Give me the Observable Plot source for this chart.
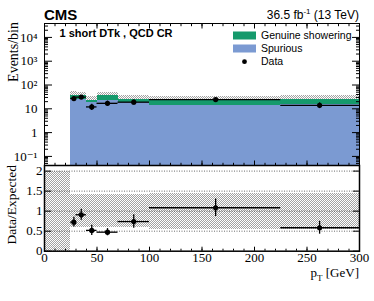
<!DOCTYPE html>
<html><head><meta charset="utf-8">
<script src="https://cdn.jsdelivr.net/npm/d3@7"></script>
<script src="https://cdn.jsdelivr.net/npm/@observablehq/plot@0.6"></script>
<style>
body{margin:0;background:#fff}
#chart{position:relative;width:374px;height:301px;overflow:hidden}
#chart svg{position:absolute;left:0}
</style>
</head><body><div id="chart"></div>
<script>
// ---- data ----
const binEdges   = [0, 25, 30, 40, 50, 70, 100, 225, 300];
const spurious   = [0, 25, 25, 18, 22, 19, 14, 15];
const genuine    = [0, 12, 10, 5, 13, 6, 9, 9];
const relUnc     = [1, 0.42, 0.42, 0.42, 0.42, 0.42, 0.45, 0.45];
const dataX      = [28, 35, 45, 60, 85, 163, 262];
const dataLo     = [25, 30, 40, 50, 70, 100, 225];
const dataHi     = [30, 40, 50, 70, 100, 225, 300];
const dataY      = [27, 31, 12, 17, 19, 24.5, 14];
const dataErr    = [5, 5.5, 3.5, 4, 4.5, 5, 3.8];
const ratio      = [0.725, 0.91, 0.52, 0.475, 0.74, 1.085, 0.585];
const ratioErr   = [0.12, 0.14, 0.125, 0.09, 0.17, 0.22, 0.16];
const yTickValsUp  = [0.1, 1, 10, 100, 1000, 10000];
const yTickLabsUp  = ["10\u207B\u00B9", "1", "10", "10\u00B2", "10\u00B3", "10\u2074"];
const yTickValsLo  = [0, 0.5, 1, 1.5, 2];
const yTickLabsLo  = ["0", "0.5", "1", "1.5", "2"];
const xTickVals    = [0, 50, 100, 150, 200, 250, 300];
const xMinorVals   = d3.range(0, 301, 10);

// ---- layout ----
const W = 374, L = 44, R = 359, T = 23, MID = 165, BOT = 250.7;
const yDomUp = [0.0415, 38400];
const yDomLo = [0, 2.14];
const BLUE = "#7b9ad2", GREEN = "#159a6c";
const serif = "'Liberation Serif', 'DejaVu Serif', serif";
const sans = "'Liberation Sans', Arial, sans-serif";

const bins = binEdges.slice(0, -1).map((x1, i) => ({
  x1, x2: binEdges[i + 1], spur: spurious[i], tot: spurious[i] + genuine[i], unc: relUnc[i]
}));
const filled = bins.filter(d => d.tot > 0);
const pts = dataX.map((x, i) => ({x, lo: dataLo[i], hi: dataHi[i], y: dataY[i], e: dataErr[i], r: ratio[i], re: ratioErr[i]}));
const band = bins.map(d => d.tot > 0 ? {x1: d.x1, x2: d.x2, y1: 1 - d.unc, y2: 1 + d.unc} : {x1: d.x1, x2: d.x2, y1: 0, y2: 2});

const chart = document.getElementById("chart");

// pattern defs
const defs = d3.select(chart).append("svg").attr("width", 0).attr("height", 0).style("top", "0px");
const pat = defs.append("defs").append("pattern").attr("id", "hatch").attr("patternUnits", "userSpaceOnUse").attr("width", 2).attr("height", 2);
pat.append("rect").attr("width", 2).attr("height", 2).attr("fill", "#fff");
pat.append("rect").attr("width", 1).attr("height", 1).attr("fill", "#a2a2a2");
pat.append("rect").attr("x", 1).attr("y", 1).attr("width", 1).attr("height", 1).attr("fill", "#a2a2a2");

const logMinor = d3.scaleLog().domain(yDomUp).ticks().filter(v => !yTickValsUp.includes(v));
const blank = () => "";
const tickAxes = (axis, vals, anchors, size) => anchors.map(a => axis(vals, {anchor: a, tickSize: -size, tickFormat: blank, label: null, stroke: "black"}));
const crisp = {shapeRendering: "crispEdges"};

const upper = Plot.plot({
  width: W, height: MID, marginTop: T, marginBottom: 0, marginLeft: L, marginRight: W - R,
  x: {domain: [0, 300]},
  y: {type: "log", domain: yDomUp},
  style: {fontFamily: serif, fontSize: "13px", background: "transparent", color: "black"},
  marks: [
    Plot.rect(filled, {x1: "x1", x2: "x2", y1: d => d.tot, y2: d => d.tot * (1 + d.unc), fill: "url(#hatch)", ...crisp}),
    Plot.rect(filled, {x1: "x1", x2: "x2", y1: yDomUp[0], y2: "spur", fill: BLUE, ...crisp}),
    Plot.rect(filled, {x1: "x1", x2: "x2", y1: "spur", y2: "tot", fill: GREEN, ...crisp}),
    Plot.ruleY(pts, {y: "y", x1: "lo", x2: "hi", stroke: "black", strokeWidth: 1.3}),
    Plot.ruleX(pts, {x: "x", y1: d => d.y - d.e, y2: d => d.y + d.e, stroke: "black", strokeWidth: 1.3}),
    Plot.dot(pts, {x: "x", y: "y", r: 2.6, fill: "black"}),
    Plot.axisY(yTickValsUp, {anchor: "left", tickSize: 0, tickPadding: 7, label: null, tickFormat: v => yTickLabsUp[yTickValsUp.indexOf(v)]}),
    ...tickAxes(Plot.axisY, yTickValsUp, ["left", "right"], 8),
    ...tickAxes(Plot.axisY, logMinor, ["left", "right"], 4),
    ...tickAxes(Plot.axisX, xTickVals, ["top", "bottom"], 4.5),
    ...tickAxes(Plot.axisX, xMinorVals, ["top", "bottom"], 2.2),
    Plot.frame({stroke: "black"})
  ]
});
upper.style.top = "0px";
chart.appendChild(upper);

const lower = Plot.plot({
  width: W, height: 301 - MID, marginTop: 0, marginBottom: 301 - BOT, marginLeft: L, marginRight: W - R,
  x: {domain: [0, 300]},
  y: {domain: yDomLo},
  style: {fontFamily: serif, fontSize: "13px", background: "transparent", color: "black", overflow: "visible"},
  marks: [
    Plot.rect(band, {x1: "x1", x2: "x2", y1: "y1", y2: "y2", fill: "url(#hatch)", ...crisp}),
    Plot.ruleY([0.5, 1, 1.5, 2], {stroke: "#444", strokeWidth: 0.8, strokeDasharray: "1,1.5"}),
    Plot.ruleY(pts, {y: "r", x1: "lo", x2: "hi", stroke: "black", strokeWidth: 1.3}),
    Plot.ruleX(pts, {x: "x", y1: d => d.r - d.re, y2: d => d.r + d.re, stroke: "black", strokeWidth: 1.3}),
    Plot.dot(pts, {x: "x", y: "r", r: 2.6, fill: "black"}),
    Plot.axisY(yTickValsLo, {anchor: "left", tickSize: 0, tickPadding: 2, label: null, tickFormat: v => yTickLabsLo[yTickValsLo.indexOf(v)]}),
    Plot.axisX(xTickVals, {anchor: "bottom", tickSize: 0, tickPadding: 2, label: null, tickFormat: v => String(v)}),
    ...tickAxes(Plot.axisY, yTickValsLo, ["left", "right"], 7),
    ...tickAxes(Plot.axisX, xTickVals, ["bottom"], 4),
    ...tickAxes(Plot.axisX, xMinorVals, ["bottom"], 2),
    Plot.frame({stroke: "black", strokeWidth: 1.5})
  ]
});
lower.style.top = MID + "px";
chart.appendChild(lower);

// ---- overlay texts & legend ----
const ov = d3.select(chart).append("svg").attr("width", W).attr("height", 301).style("top", "0px").style("pointer-events", "none");
ov.append("text").attr("x", 44).attr("y", 19.5).attr("font-family", sans).attr("font-weight", "bold").attr("font-size", 15).text("CMS");
const lumi = ov.append("text").attr("x", R).attr("y", 19).attr("text-anchor", "end").attr("font-family", sans).attr("font-size", 12);
lumi.append("tspan").text("36.5 fb");
lumi.append("tspan").attr("font-size", 8).attr("dy", -5).text("-1");
lumi.append("tspan").attr("dy", 5).text(" (13 TeV)");
ov.append("text").attr("x", 59.5).attr("y", 36.5).attr("font-family", sans).attr("font-weight", "bold").attr("font-size", 11).text("1 short DTk , QCD CR");

const legend = [
  {label: "Genuine showering", kind: "rect", color: GREEN, y: 35.5},
  {label: "Spurious", kind: "rect", color: BLUE, y: 48.5},
  {label: "Data", kind: "dot", color: "black", y: 61.7}
];
legend.forEach(d => {
  if (d.kind === "rect") ov.append("rect").attr("x", 233).attr("y", d.y - 4).attr("width", 23).attr("height", 8).attr("fill", d.color);
  else ov.append("circle").attr("cx", 244.5).attr("cy", d.y).attr("r", 2.4).attr("fill", d.color);
  ov.append("text").attr("x", 261).attr("y", d.y + 3.5).attr("font-family", sans).attr("font-size", 10.5).text(d.label);
});

ov.append("text").attr("transform", "translate(18,22) rotate(-90)").attr("text-anchor", "end").attr("font-family", serif).attr("font-size", 14).text("Events/bin");
ov.append("text").attr("transform", "translate(16,165) rotate(-90)").attr("text-anchor", "end").attr("font-family", serif).attr("font-size", 13.5).text("Data/Expected");
const xl = ov.append("text").attr("x", R).attr("y", 276.5).attr("text-anchor", "end").attr("font-family", serif).attr("font-size", 13);
xl.append("tspan").text("p");
xl.append("tspan").attr("font-size", 9).attr("dy", 4).text("T");
xl.append("tspan").attr("dy", -4).text(" [GeV]");
</script>
</body></html>
